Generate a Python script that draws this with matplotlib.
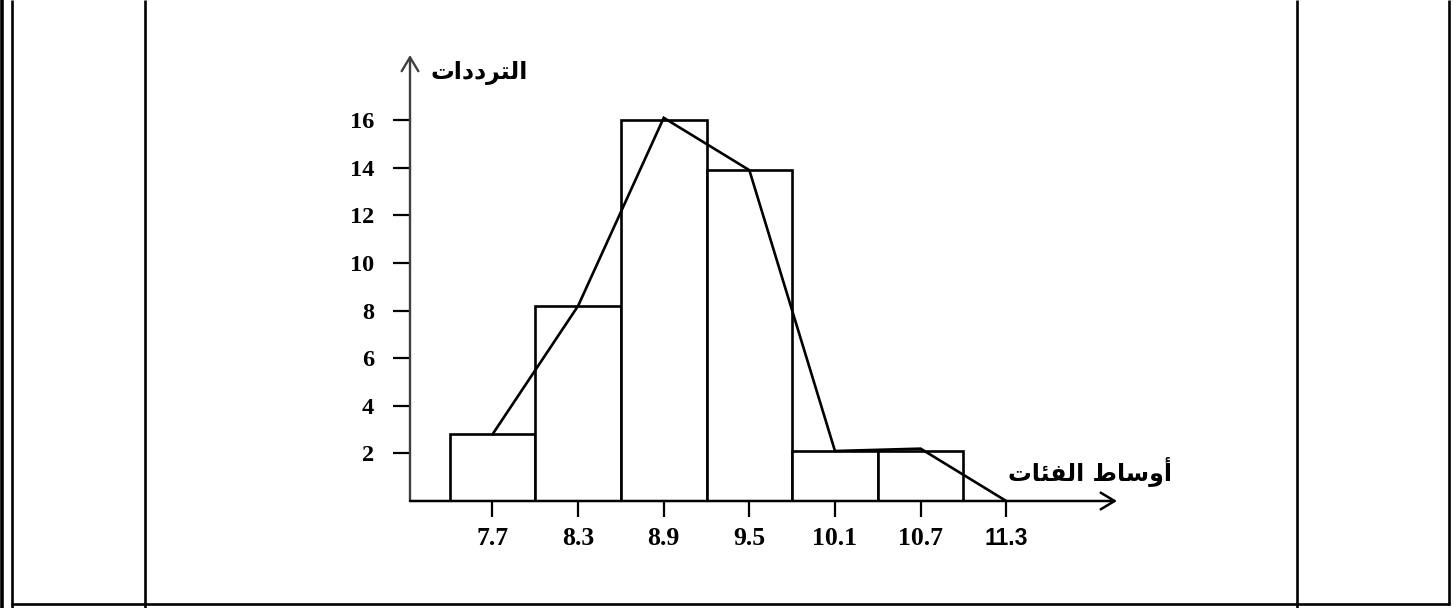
import numpy as np
import matplotlib
matplotlib.use("Agg")
import matplotlib.pyplot as plt
from matplotlib.font_manager import FontProperties

# ---- data ----
class_mids = [7.7, 8.3, 8.9, 9.5, 10.1, 10.7]
frequencies = [2.8, 8.2, 16.0, 13.9, 2.1, 2.1]
poly_x = [7.7, 8.3, 8.9, 9.5, 10.1, 10.7, 11.3]
poly_y = [2.8, 8.2, 16.1, 13.9, 2.1, 2.2, 0.0]
x_ticks = [7.7, 8.3, 8.9, 9.5, 10.1, 10.7, 11.3]
x_tick_labels = ["7.7", "8.3", "8.9", "9.5", "10.1", "10.7", "11.3"]
y_ticks = [2, 4, 6, 8, 10, 12, 14, 16]
y_tick_labels = ["2", "4", "6", "8", "10", "12", "14", "16"]
y_title = "الترددات"
x_title = "أوساط الفئات"

# ---- minimal Arabic shaping (presentation forms + RTL order) ----
FORMS = {
    'ا': ('\uFE8D', '\uFE8E', None, None),
    'أ': ('\uFE83', '\uFE84', None, None),
    'ل': ('\uFEDD', '\uFEDE', '\uFEDF', '\uFEE0'),
    'ت': ('\uFE95', '\uFE96', '\uFE97', '\uFE98'),
    'ر': ('\uFEAD', '\uFEAE', None, None),
    'د': ('\uFEA9', '\uFEAA', None, None),
    'و': ('\uFEED', '\uFEEE', None, None),
    'س': ('\uFEB1', '\uFEB2', '\uFEB3', '\uFEB4'),
    'ط': ('\uFEC1', '\uFEC2', '\uFEC3', '\uFEC4'),
    'ف': ('\uFED1', '\uFED2', '\uFED3', '\uFED4'),
    'ئ': ('\uFE89', '\uFE8A', '\uFE8B', '\uFE8C'),
}


def shape(s):
    out = []
    for i, c in enumerate(s):
        if c not in FORMS:
            out.append(c)
            continue
        prev = s[i - 1] if i > 0 else None
        nxt = s[i + 1] if i + 1 < len(s) else None
        join_prev = prev in FORMS and FORMS[prev][2] is not None
        join_next = FORMS[c][2] is not None and nxt in FORMS
        iso, fin, ini, med = FORMS[c]
        if join_prev and join_next:
            out.append(med)
        elif join_prev:
            out.append(fin)
        elif join_next:
            out.append(ini)
        else:
            out.append(iso)
    return ''.join(reversed(out))


W, H = 1456, 608
fig = plt.figure(figsize=(W / 100, H / 100), dpi=100)
fig.patch.set_facecolor("white")

# ---- table frame (background) ----
bg = fig.add_axes([0, 0, 1, 1], zorder=-1)
bg.set_xlim(0, W)
bg.set_ylim(H, 0)
bg.axis("off")
for xv, lw in [(1.5, 2.6), (12, 1.9), (144.5, 1.9), (1297, 1.9)]:
    bg.plot([xv, xv], [0, H], color="black", lw=lw, solid_capstyle="butt")
bg.plot([1449, 1449], [0, 605], color="black", lw=1.9, solid_capstyle="butt")
bg.plot([11, 1450], [604, 604], color="black", lw=1.9, solid_capstyle="butt")

# ---- chart axes ----
x0_px, x_scale = 492.5, 142.7  # pixel of 7.7, px per unit
y0_px, y_scale = 501.0, 23.8
ax_left_px, ax_right_px, ax_top_px = 410, 1117, 55
ax = fig.add_axes([ax_left_px / W, (H - y0_px) / H,
                   (ax_right_px - ax_left_px) / W, (y0_px - ax_top_px) / H])
ax.set_xlim(7.7 + (ax_left_px - x0_px) / x_scale, 7.7 + (ax_right_px - x0_px) / x_scale)
ax.set_ylim(0, (y0_px - ax_top_px) / y_scale)
ax.patch.set_alpha(0)
for s in ax.spines.values():
    s.set_visible(False)

ax.bar(class_mids, frequencies, width=0.6, facecolor="white",
       edgecolor="black", linewidth=1.9, zorder=2)
ax.plot(poly_x, poly_y, color="black", lw=1.9, zorder=3,
        solid_joinstyle="miter", clip_on=False)

# axes arrows
ax.annotate("", xy=(0, 1), xytext=(0, 0), xycoords="axes fraction",
            arrowprops=dict(arrowstyle="->,head_length=0.5,head_width=0.3",
                            lw=1.7, color="#404040", shrinkA=0, shrinkB=0,
                            mutation_scale=20), zorder=4)
ax.annotate("", xy=(1, 0), xytext=(0, 0), xycoords="axes fraction",
            arrowprops=dict(arrowstyle="->,head_length=0.5,head_width=0.3",
                            lw=1.8, color="black", shrinkA=0, shrinkB=0,
                            mutation_scale=20), zorder=4)

serif_b = FontProperties(family="Liberation Serif", weight="bold", size=17.5)
serif_bx = FontProperties(family="Liberation Serif", weight="bold", size=18.5)
sans_bx = FontProperties(family="Liberation Sans", weight="bold", size=16.5)

ax.set_yticks(y_ticks)
ax.set_yticklabels(y_tick_labels)
ax.tick_params(axis="y", direction="out", length=12, width=1.6, pad=14, color="black")
for t in ax.get_yticklabels():
    t.set_fontproperties(serif_b)

ax.set_xticks(x_ticks)
ax.set_xticklabels(x_tick_labels)
ax.tick_params(axis="x", direction="out", length=11.5, width=1.6, pad=7, color="black")
for t in ax.get_xticklabels():
    if t.get_text() == "11.3":
        t.set_fontproperties(sans_bx)
    else:
        t.set_fontproperties(serif_bx)

# axis titles (Arabic)
fig.text(479 / W, 1 - 73 / H, shape(y_title), ha="center", va="center",
         family=["DejaVu Sans"], weight="bold", fontsize=17)
fig.text(1090 / W, 1 - 471 / H, shape(x_title), ha="center", va="center",
         family=["DejaVu Sans"], weight="bold", fontsize=17)

fig.savefig("out.png", dpi=100, facecolor="white")
